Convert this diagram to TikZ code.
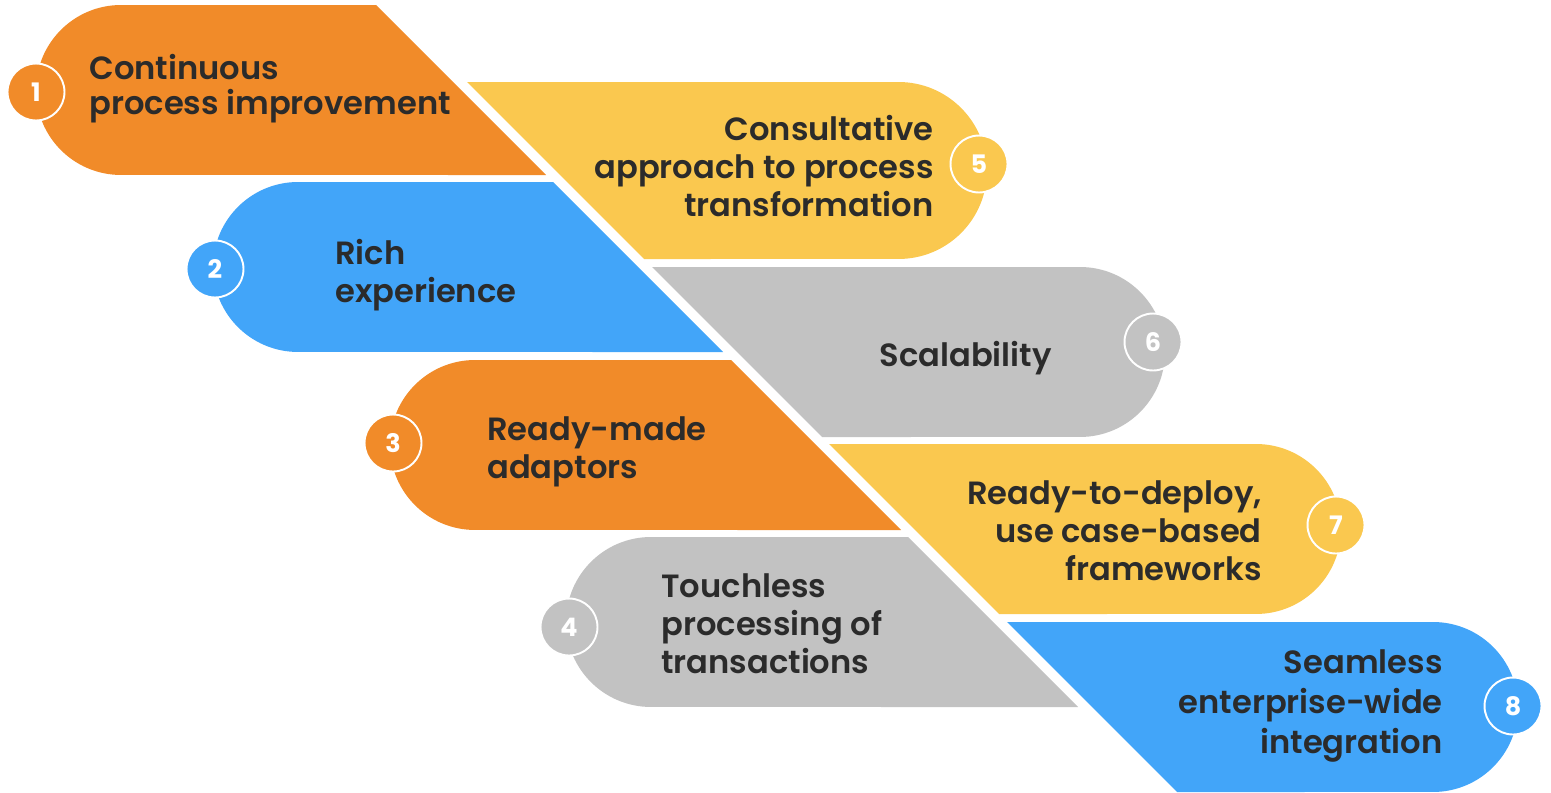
\documentclass[tikz,border=0pt]{standalone}
\usepackage{fontspec}
\setmainfont{Poppins}[UprightFont={* SemiBold},BoldFont={* Bold}]
\definecolor{tabOrange}{HTML}{F18B29}
\definecolor{tabYellow}{HTML}{FAC84F}
\definecolor{tabBlue}{HTML}{42A5F9}
\definecolor{tabGray}{HTML}{C2C2C2}
\definecolor{tabText}{HTML}{2B2B2B}
\tikzset{
    numdisc/.style={circle, draw=white, line width=1.1pt, minimum size=1.14cm,
        inner sep=0pt, text=white, font=\fontsize{14.5}{15}\selectfont\bfseries},
    lefttext/.style={anchor=west, align=left, inner sep=0pt, text=tabText,
        font=\fontsize{18.3}{21.6}\selectfont},
    righttext/.style={anchor=east, align=right, inner sep=0pt, text=tabText,
        font=\fontsize{18.3}{21.6}\selectfont}
}

\begin{document}
\begin{tikzpicture}[x=0.02cm, y=-0.02cm]
    \useasboundingbox (0,0) rectangle (1551,792);

    \fill[tabOrange] (121,5) arc[start angle=90, end angle=270, radius=1.7cm] -- (546,175) -- (376,5) -- cycle;
    \fill[tabBlue] (298,182) arc[start angle=90, end angle=270, radius=1.7cm] -- (723,352) -- (553,182) -- cycle;
    \fill[tabOrange] (475,360) arc[start angle=90, end angle=270, radius=1.7cm] -- (901,530) -- (731,360) -- cycle;
    \fill[tabGray] (651,537) arc[start angle=90, end angle=270, radius=1.7cm] -- (1078,707) -- (908,537) -- cycle;

    \fill[tabYellow] (467,82) -- (898.5,82) arc[start angle=90, end angle=-90, radius=1.77cm] -- (644,259) -- cycle;
    \fill[tabGray] (652,267) -- (1080,267) arc[start angle=90, end angle=-90, radius=1.7cm] -- (822,437) -- cycle;
    \fill[tabYellow] (829,444) -- (1256,444) arc[start angle=90, end angle=-90, radius=1.7cm] -- (999,614) -- cycle;
    \fill[tabBlue] (1007,622) -- (1433,622) arc[start angle=90, end angle=-90, radius=1.7cm] -- (1177,792) -- cycle;

    \node[numdisc, fill=tabOrange] (n1) at (36,92) {1};
    \node[numdisc, fill=tabBlue] (n2) at (215,269) {2};
    \node[numdisc, fill=tabOrange] (n3) at (393,443) {3};
    \node[numdisc, fill=tabGray] (n4) at (569,627) {4};
    \node[numdisc, fill=tabYellow] (n5) at (979,164) {5};
    \node[numdisc, fill=tabGray] (n6) at (1153,342) {6};
    \node[numdisc, fill=tabYellow] (n7) at (1336,525) {7};
    \node[numdisc, fill=tabBlue] (n8) at (1513,706) {8};

    \node[lefttext, font=\fontsize{18.3}{20}\selectfont] (t1) at (89,89) {Continuous\\process improvement};
    \node[lefttext] (t2) at (335,275) {Rich\\experience};
    \node[lefttext] (t3) at (487,452) {Ready-made\\adaptors};
    \node[lefttext] (t4) at (661,624) {Touchless\\processing of\\transactions};
    \node[righttext] (t5) at (934,166) {Consultative\\approach to process\\transformation};
    \node[righttext] (t6) at (1052,358) {Scalability};
    \node[righttext] (t7) at (1262,531) {Ready-to-deploy,\\use case-based\\frameworks};
    \node[righttext, font=\fontsize{18.3}{23}\selectfont] (t8) at (1443,706) {Seamless\\enterprise-wide\\integration};
\end{tikzpicture}
\end{document}
